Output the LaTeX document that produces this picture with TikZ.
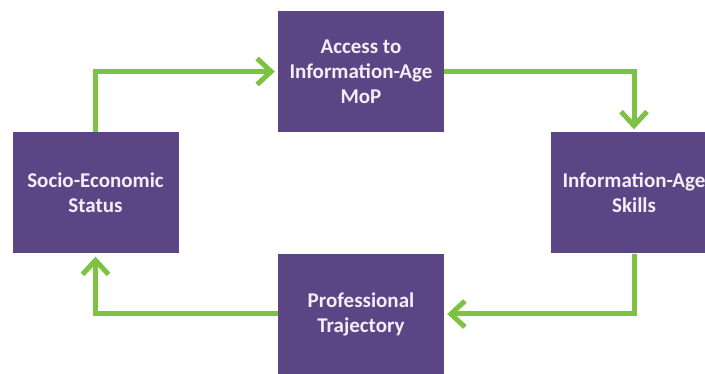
\documentclass[tikz,border=0pt]{standalone}
\usepackage{fontspec}
\setmainfont{Carlito}
\usetikzlibrary{arrows.meta}
\definecolor{boxpurple}{HTML}{5C4584}
\definecolor{flowgreen}{HTML}{7DC242}
\definecolor{boxtext}{HTML}{F4EEF8}
\tikzset{
  stagebox/.style={fill=boxpurple, draw=none, minimum width=166pt, minimum height=121pt,
    inner sep=0pt, align=center, text=boxtext,
    font=\bfseries\fontsize{21}{25}\selectfont},
  flow/.style={draw=flowgreen, line width=5pt, line join=miter,
    -{Straight Barb[length=14pt,width=26pt,line width=5pt]}, shorten >=3pt}
}
\begin{document}
\begin{tikzpicture}[x=1pt,y=-1pt]
  \useasboundingbox (0,0) rectangle (705,374);
  \clip (0,0) rectangle (705,374);
  \fill[white] (0,0) rectangle (705,374);

  \node[stagebox] (access) at (361,71.5) {Access to\\Information-Age\\MoP};
  \node[stagebox] (ses)    at (95.5,193) {Socio-Economic\\Status};
  \node[stagebox] (skills) at (634,193)  {Information-Age\\Skills};
  \node[stagebox, minimum height=120pt] (traj) at (361,314) {Professional\\Trajectory};

  \draw[flow] (ses.north) |- (access.west);
  \draw[flow] (access.east) -| (skills.north);
  \draw[flow] (skills.south) |- (traj.east);
  \draw[flow] (traj.west) -| (ses.south);
\end{tikzpicture}
\end{document}
